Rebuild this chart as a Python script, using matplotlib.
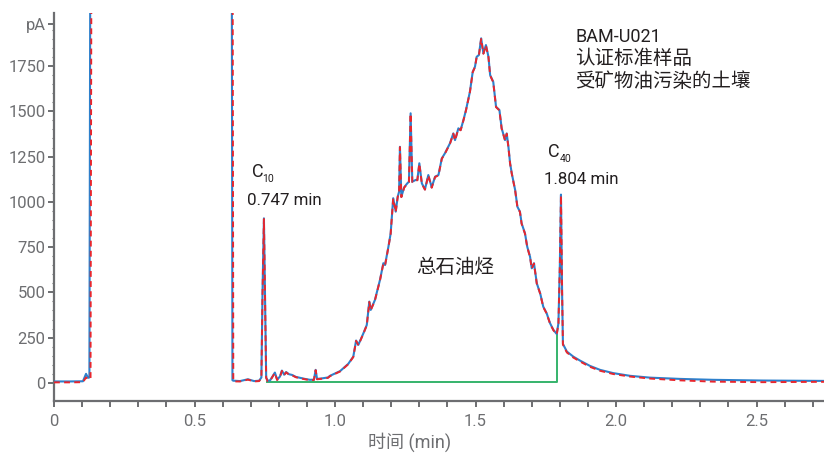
import matplotlib
matplotlib.use("Agg")
import matplotlib.pyplot as plt
from matplotlib import font_manager as fm
from matplotlib.ticker import FixedLocator, MultipleLocator

# ---------------- data ----------------
time_min = [0.000, 0.057, 0.103, 0.114, 0.121, 0.126, 0.130, 0.134, 0.400, 0.632,
            0.635, 0.638, 0.641, 0.662, 0.690, 0.712, 0.730, 0.738, 0.742, 0.747,
            0.751, 0.755, 0.760, 0.769, 0.786, 0.794, 0.804, 0.811, 0.819, 0.826,
            0.836, 0.847, 0.861, 0.875, 0.893, 0.911, 0.925, 0.931, 0.936, 0.954,
            0.975, 0.982, 1.018, 1.047, 1.065, 1.075, 1.083, 1.101, 1.113, 1.122,
            1.127, 1.142, 1.160, 1.172, 1.178, 1.190, 1.198, 1.207, 1.216, 1.223,
            1.228, 1.231, 1.236, 1.246, 1.257, 1.263, 1.269, 1.275, 1.287, 1.293,
            1.300, 1.309, 1.320, 1.332, 1.344, 1.356, 1.368, 1.380, 1.391, 1.403,
            1.409, 1.421, 1.427, 1.439, 1.447, 1.457, 1.466, 1.480, 1.490, 1.498,
            1.504, 1.512, 1.520, 1.528, 1.537, 1.546, 1.552, 1.563, 1.573, 1.585,
            1.593, 1.605, 1.611, 1.617, 1.623, 1.629, 1.641, 1.649, 1.658, 1.664,
            1.676, 1.684, 1.694, 1.700, 1.708, 1.718, 1.730, 1.741, 1.753, 1.765,
            1.777, 1.789, 1.795, 1.800, 1.804, 1.808, 1.811, 1.825, 1.848, 1.872,
            1.907, 1.943, 1.990, 2.050, 2.121, 2.228, 2.345, 2.523, 2.740]

signal_run1 = [8, 8, 9, 50, 28, 30, 3000, 3000, 3000, 3000,
               15, 12, 12, 10, 20, 10, 12, 30, 500, 909,
               450, 30, 12, 14, 57, 18, 35, 68, 45, 60,
               48, 44, 33, 28, 22, 17, 18, 72, 22, 25,
               30, 39, 65, 105, 145, 234, 210, 274, 320, 449,
               403, 458, 569, 661, 651, 752, 826, 1020, 946, 1028,
               1056, 1304, 1028, 1080, 1102, 1111, 1489, 1111, 1121, 1121,
               1213, 1102, 1069, 1148, 1080, 1139, 1148, 1240, 1268, 1304,
               1323, 1378, 1341, 1406, 1397, 1452, 1507, 1608, 1718, 1746,
               1801, 1811, 1903, 1820, 1866, 1801, 1700, 1663, 1525, 1507,
               1406, 1341, 1378, 1304, 1213, 1157, 1065, 973, 946, 881,
               826, 752, 697, 633, 661, 550, 495, 421, 385, 330,
               293, 270, 330, 650, 1040, 500, 215, 173, 145, 123,
               94, 72, 54, 39, 29, 22, 17, 13, 11]

signal_run2 = [3, 3, 4, 30, 20, 25, 25, 3000, 3000, 3000,
               3000, 10, 8, 8, 18, 8, 10, 28, 490, 905,
               455, 28, 10, 12, 55, 16, 33, 66, 43, 58,
               46, 42, 31, 26, 20, 15, 16, 70, 20, 23,
               28, 37, 63, 103, 143, 232, 208, 272, 318, 447,
               401, 456, 567, 659, 649, 750, 824, 1018, 944, 1026,
               1054, 1302, 1026, 1078, 1100, 1109, 1487, 1109, 1119, 1119,
               1211, 1100, 1067, 1146, 1078, 1137, 1146, 1238, 1266, 1302,
               1321, 1376, 1339, 1404, 1395, 1450, 1505, 1606, 1716, 1744,
               1799, 1809, 1900, 1818, 1864, 1799, 1698, 1661, 1523, 1505,
               1404, 1339, 1376, 1302, 1211, 1155, 1063, 971, 944, 879,
               824, 750, 695, 631, 659, 548, 493, 419, 383, 328,
               291, 268, 328, 640, 1035, 510, 212, 168, 140, 118,
               89, 67, 49, 35, 24, 14, 7, 4, 6]

baseline_t = [0.758, 1.789, 1.789]
baseline_v = [7, 7, 265]

x_ticks = [0, 0.5, 1.0, 1.5, 2.0, 2.5]
x_ticklabels = ["0", "0.5", "1.0", "1.5", "2.0", "2.5"]
y_ticks = [0, 250, 500, 750, 1000, 1250, 1500, 1750, 1985]
y_ticklabels = ["0", "250", "500", "750", "1000", "1250", "1500", "1750", "pA"]

# ---------------- fonts ----------------
names = {f.name for f in fm.fontManager.ttflist}
latin = next((n for n in ["Liberation Sans Narrow", "DejaVu Sans Condensed", "Roboto"]
              if n in names), "DejaVu Sans")
FAM = [latin, "Noto Sans CJK SC", "DejaVu Sans"]
plt.rcParams["font.family"] = FAM

GRAY = "#6d6e71"
DARK = "#231f20"
BLUE = "#2d80cc"
RED = "#e8262d"
GREEN = "#35b36b"

fig = plt.figure(figsize=(8.24, 4.53), dpi=100)
ax = fig.add_axes([54 / 824, (453 - 401) / 453, 770 / 824, (401 - 13) / 453])

ax.plot(time_min, signal_run1, color=BLUE, lw=1.5, solid_joinstyle="round", zorder=3)
ax.plot(time_min, signal_run2, color=RED, lw=1.4, linestyle=(0, (3, 2.2)), zorder=4)
ax.plot(baseline_t, baseline_v, color=GREEN, lw=1.4, zorder=2)

ax.set_xlim(0, 2.74)
ax.set_ylim(-100, 2043)

for s in ["top", "right"]:
    ax.spines[s].set_visible(False)
for s in ["left", "bottom"]:
    ax.spines[s].set_color(GRAY)
    ax.spines[s].set_linewidth(1.6)

ax.set_xticks(x_ticks)
ax.set_xticklabels(x_ticklabels)
ax.xaxis.set_minor_locator(MultipleLocator(0.1))
ax.set_yticks(y_ticks)
ax.set_yticklabels(y_ticklabels)
ax.yaxis.set_minor_locator(FixedLocator([v for v in range(50, 1985, 50) if v % 250 != 0]))

ax.tick_params(axis="x", which="major", length=4, width=1.4, color=GRAY,
               labelcolor=GRAY, labelsize=12, pad=5)
ax.tick_params(axis="x", which="minor", length=4, width=1.4, color=GRAY)
ax.tick_params(axis="y", which="major", length=4, width=1.4, color=GRAY,
               labelcolor=GRAY, labelsize=12, pad=2)
ax.tick_params(axis="y", which="minor", length=1.5, width=0.8, color=GRAY)

fig.text(409.5 / 824, (453 - 442) / 453, "时间 (min)", color=GRAY, fontsize=13,
         ha="center", va="center", family=FAM)

# annotations
ax.text(0.724, 1165, "C", color=DARK, fontsize=13, ha="center", va="center", family=FAM)
ax.text(0.762, 1125, "10", color=DARK, fontsize=7.5, ha="center", va="center", family=FAM)
ax.text(0.820, 1010, "0.747 min", color=DARK, fontsize=12.2, ha="center", va="center", family=FAM)
ax.text(1.779, 1275, "C", color=DARK, fontsize=13, ha="center", va="center", family=FAM)
ax.text(1.819, 1237, "40", color=DARK, fontsize=7.5, ha="center", va="center", family=FAM)
ax.text(1.877, 1121, "1.804 min", color=DARK, fontsize=12.2, ha="center", va="center", family=FAM)
ax.text(1.429, 638, "总石油烃", color=DARK, fontsize=14, ha="center", va="center", family=FAM)
ax.text(1.854, 1911, "BAM-U021", color=DARK, fontsize=13, ha="left", va="center", family=FAM)
ax.text(1.854, 1792, "认证标准样品", color=DARK, fontsize=14, ha="left", va="center", family=FAM)
ax.text(1.854, 1662, "受矿物油污染的土壤", color=DARK, fontsize=14, ha="left", va="center", family=FAM)

fig.savefig("out.png", dpi=100)
